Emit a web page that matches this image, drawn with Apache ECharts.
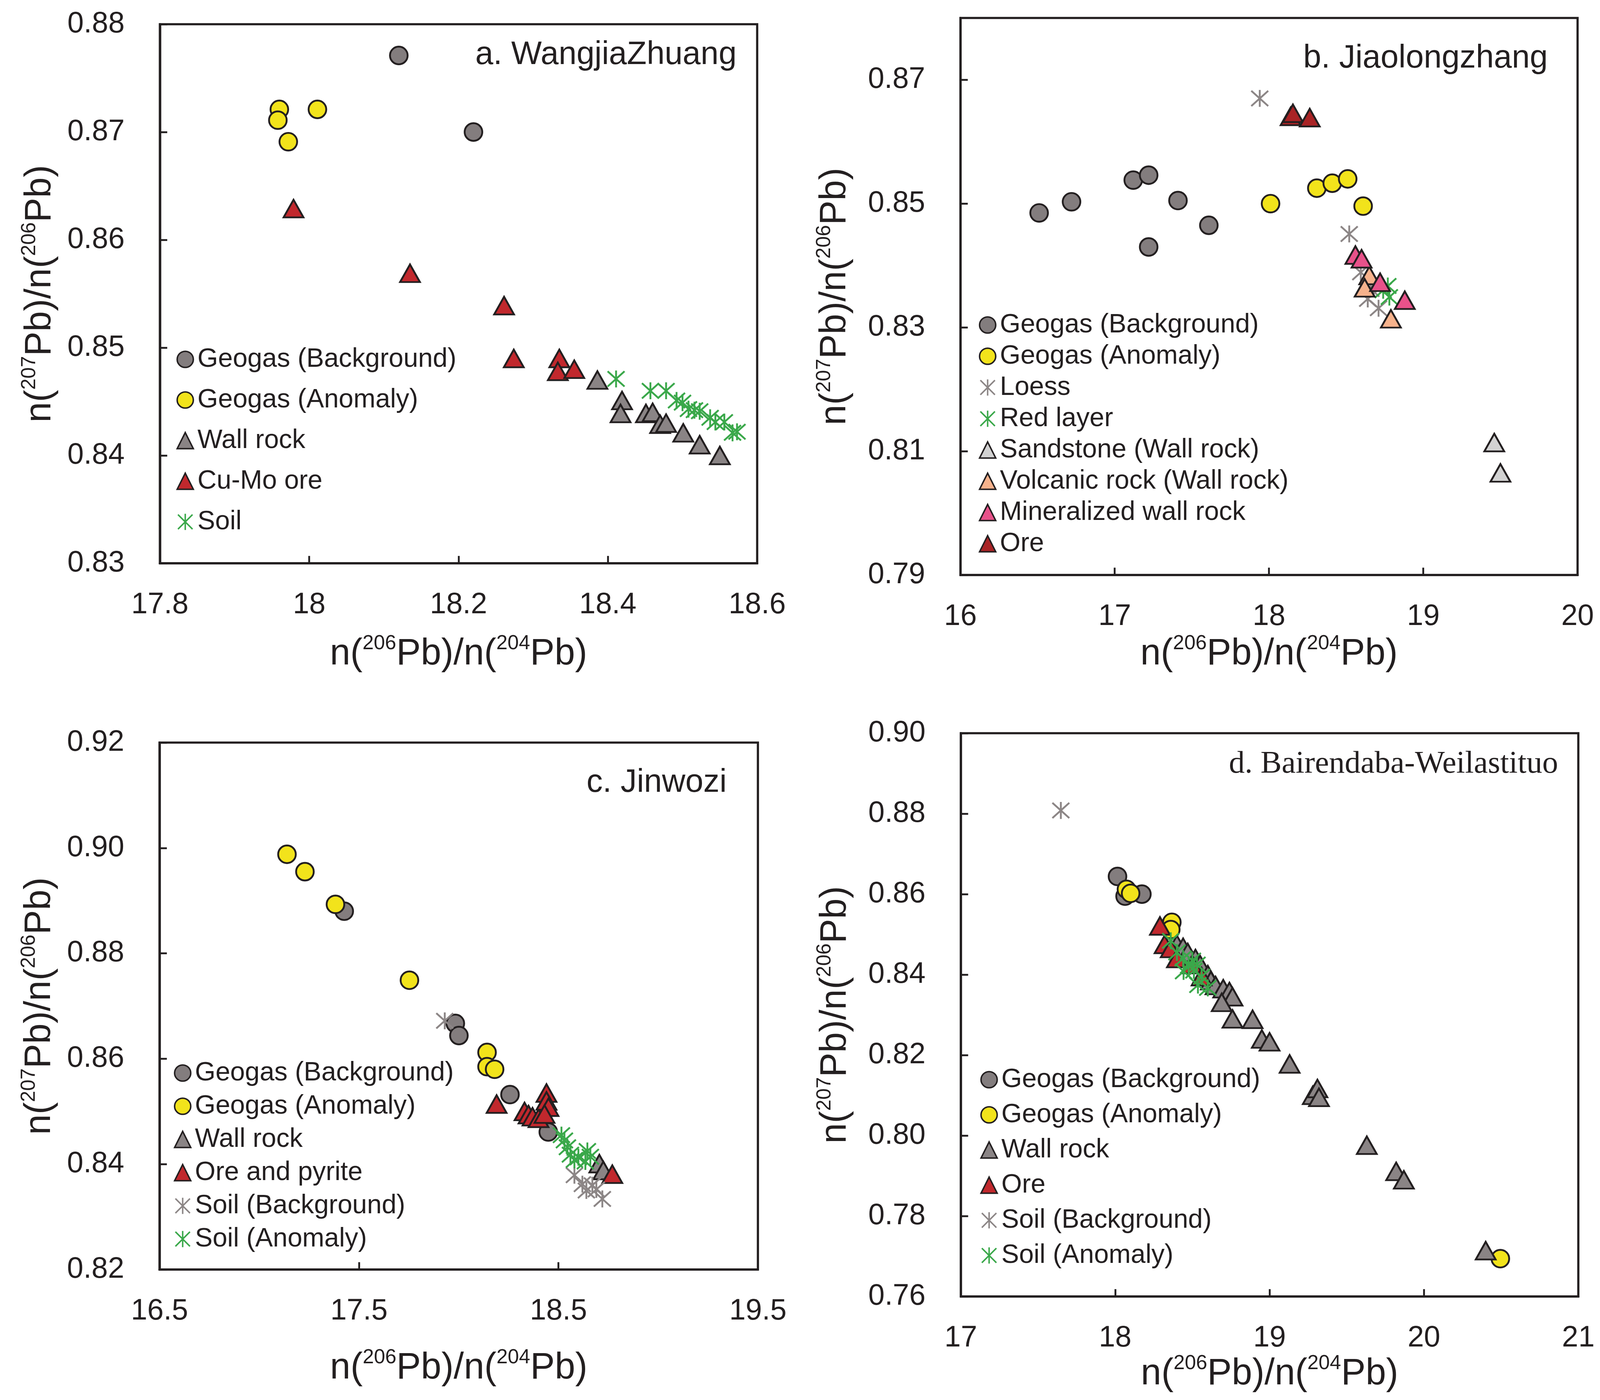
<!DOCTYPE html>
<html lang="en">
<head>
    <meta charset="utf-8"/>
    <title>n(207Pb)/n(206Pb) vs n(206Pb)/n(204Pb)</title>
    <script src="https://cdn.jsdelivr.net/npm/echarts@6/dist/echarts.min.js"></script>
    <style>
        html, body { margin: 0; padding: 0; background: #fff; overflow: hidden; }
        #main { width: 100vw; height: 100vh; }
    </style>
</head>
<body>
<div id="main"></div>
<script>
    // a. WangjiaZhuang
    var aGeoBg = [[18.12, 0.8771], [18.22, 0.8700]];
    var aGeoAn = [[17.96, 0.8721], [17.958, 0.8711], [17.972, 0.8691], [18.011, 0.8721]];
    var aWall = [[18.386, 0.8470], [18.419, 0.8451], [18.417, 0.8439], [18.451, 0.8439], [18.460, 0.8440],
        [18.470, 0.8429], [18.478, 0.8430], [18.501, 0.8421], [18.523, 0.8410], [18.550, 0.8400]];
    var aOre = [[17.979, 0.8629], [18.135, 0.8569], [18.261, 0.8539], [18.274, 0.8490], [18.335, 0.8490],
        [18.333, 0.8478], [18.355, 0.8480]];
    var aSoil = [[18.411, 0.8471], [18.457, 0.8460], [18.478, 0.8460], [18.492, 0.8451], [18.500, 0.8449],
        [18.508, 0.8443], [18.516, 0.8442], [18.523, 0.8441], [18.537, 0.8435], [18.544, 0.8431],
        [18.556, 0.8431], [18.567, 0.8421], [18.573, 0.8422]];

    // b. Jiaolongzhang
    var bGeoBg = [[16.51, 0.8485], [16.72, 0.8503], [17.12, 0.8538], [17.22, 0.8546], [17.41, 0.8505],
        [17.61, 0.8465], [17.22, 0.8430]];
    var bGeoAn = [[18.01, 0.8500], [18.31, 0.8525], [18.41, 0.8533], [18.51, 0.8540], [18.61, 0.8496]];
    var bLoess = [[17.94, 0.8670], [18.52, 0.8451], [18.595, 0.8389], [18.64, 0.8346], [18.71, 0.8331], [18.66, 0.8362]];
    var bRedLayer = [[18.74, 0.8360], [18.77, 0.8367], [18.78, 0.8349]];
    var bSand = [[19.46, 0.8114], [19.50, 0.8065]];
    var bVolc = [[18.65, 0.8384], [18.62, 0.8364], [18.79, 0.8314]];
    var bMin = [[18.56, 0.8417], [18.60, 0.8411], [18.72, 0.8373], [18.88, 0.8344]];
    var bOre = [[18.14, 0.8641], [18.155, 0.8646], [18.264, 0.8639]];

    // c. Jinwozi
    var cGeoBg = [[17.426, 0.8880], [17.983, 0.8667], [18.001, 0.8644], [18.257, 0.8532], [18.449, 0.8461]];
    var cGeoAn = [[17.139, 0.8988], [17.229, 0.8955], [17.382, 0.8893], [17.753, 0.8749], [18.142, 0.8612],
        [18.142, 0.8585], [18.18, 0.8580]];
    var cWall = [[18.705, 0.8401], [18.725, 0.8388]];
    var cOre = [[18.19, 0.8514], [18.33, 0.8500], [18.35, 0.8494], [18.37, 0.8490], [18.40, 0.8487],
        [18.44, 0.8535], [18.44, 0.8520], [18.45, 0.8508], [18.43, 0.8495], [18.77, 0.8381]];
    var cSoilBg = [[17.93, 0.8672], [18.58, 0.8379], [18.62, 0.8362], [18.64, 0.8350], [18.67, 0.8360],
        [18.69, 0.8352], [18.72, 0.8334]];
    var cSoilAn = [[18.515, 0.8455], [18.53, 0.8445], [18.545, 0.8432], [18.56, 0.8418], [18.58, 0.8408],
        [18.60, 0.8413], [18.635, 0.8405], [18.645, 0.8425], [18.66, 0.8414]];

    // d. Bairendaba-Weilastituo
    var dGeoBg = [[18.015, 0.8644], [18.064, 0.8595], [18.173, 0.8600]];
    var dGeoAn = [[18.073, 0.8612], [18.10, 0.8602], [18.367, 0.8530], [18.36, 0.8512], [20.495, 0.7694]];
    var dWall = [[18.40, 0.8475], [18.44, 0.8468], [18.47, 0.8455], [18.52, 0.8440], [18.55, 0.8425],
        [18.60, 0.8400], [18.62, 0.8385], [18.65, 0.8373], [18.70, 0.8365], [18.74, 0.8358], [18.76, 0.8345],
        [18.69, 0.8331], [18.76, 0.8290], [18.89, 0.8289], [18.95, 0.8240], [19.00, 0.8233], [19.13, 0.8178],
        [19.28, 0.8100], [19.31, 0.8117], [19.32, 0.8095], [19.63, 0.7976], [19.82, 0.7911], [19.87, 0.7890],
        [20.40, 0.7714]];
    var dOre = [[18.29, 0.8521], [18.32, 0.8475], [18.36, 0.8465], [18.40, 0.8440], [18.50, 0.8425], [18.56, 0.8395]];
    var dSoilBg = [[17.648, 0.8808]];
    var dSoilAn = [[18.36, 0.8484], [18.40, 0.8455], [18.44, 0.8440], [18.443, 0.8408], [18.476, 0.8422],
        [18.50, 0.8435], [18.51, 0.8410], [18.53, 0.8425], [18.536, 0.8374], [18.56, 0.8395], [18.60, 0.8367]];

    var FONT = '"Liberation Sans", Arial, sans-serif';
    var INK = '#231f20';
    var STAR = 'path://M10,0L10,20M1,1L19,19M1,19L19,1';

    // marker colours
    var GRAY = '#837d7e', YELLOW = '#f2e31b', TRI_GRAY = '#8a8485', RED = '#c1282d', DARK_RED = '#a92325',
        GREEN = '#3aa84a', STAR_GRAY = '#8c8686', LIGHT = '#d2d2d2', SALMON = '#f6b28c', PINK = '#e8528a';

    var dom = document.getElementById('main');
    var chart = echarts.init(dom);
    // layout was measured on a 4353x3584 picture; scale to the real canvas
    var kx = chart.getWidth() / 4353;
    var ky = chart.getHeight() / 3584;
    function s(v) { return v * kx; }
    function sy(v) { return v * ky; }

    function pts(panel, name, data, kind, fill) {
        var o = {
            name: panel + '|' + name,
            type: 'scatter',
            xAxisIndex: 'abcd'.indexOf(panel),
            yAxisIndex: 'abcd'.indexOf(panel),
            data: data,
            itemStyle: {color: fill, borderColor: INK, borderWidth: s(5), opacity: 1}
        };
        if (kind === 'circle') {
            o.symbol = 'circle';
            o.symbolSize = s(48);
        } else if (kind === 'tri') {
            o.symbol = 'triangle';
            o.symbolSize = [s(54), s(48)];
        } else {
            o.symbol = STAR;
            o.symbolSize = s(46);
            o.itemStyle = {color: 'rgba(0,0,0,0)', borderColor: fill, borderWidth: s(5), opacity: 1};
        }
        return o;
    }

    var series = [
        pts('a', 'Geogas (Background)', aGeoBg, 'circle', GRAY),
        pts('a', 'Geogas (Anomaly)', aGeoAn, 'circle', YELLOW),
        pts('a', 'Wall rock', aWall, 'tri', TRI_GRAY),
        pts('a', 'Cu-Mo ore', aOre, 'tri', RED),
        pts('a', 'Soil', aSoil, 'star', GREEN),

        pts('b', 'Geogas (Background)', bGeoBg, 'circle', GRAY),
        pts('b', 'Geogas (Anomaly)', bGeoAn, 'circle', YELLOW),
        pts('b', 'Loess', bLoess, 'star', STAR_GRAY),
        pts('b', 'Red layer', bRedLayer, 'star', GREEN),
        pts('b', 'Sandstone (Wall rock)', bSand, 'tri', LIGHT),
        pts('b', 'Volcanic rock (Wall rock)', bVolc, 'tri', SALMON),
        pts('b', 'Mineralized wall rock', bMin, 'tri', PINK),
        pts('b', 'Ore', bOre, 'tri', DARK_RED),

        pts('c', 'Geogas (Background)', cGeoBg, 'circle', GRAY),
        pts('c', 'Geogas (Anomaly)', cGeoAn, 'circle', YELLOW),
        pts('c', 'Wall rock', cWall, 'tri', TRI_GRAY),
        pts('c', 'Ore and pyrite', cOre, 'tri', RED),
        pts('c', 'Soil (Background)', cSoilBg, 'star', STAR_GRAY),
        pts('c', 'Soil (Anomaly)', cSoilAn, 'star', GREEN),

        pts('d', 'Geogas (Background)', dGeoBg, 'circle', GRAY),
        pts('d', 'Geogas (Anomaly)', dGeoAn, 'circle', YELLOW),
        pts('d', 'Wall rock', dWall, 'tri', TRI_GRAY),
        pts('d', 'Ore', dOre, 'tri', RED),
        pts('d', 'Soil (Background)', dSoilBg, 'star', STAR_GRAY),
        pts('d', 'Soil (Anomaly)', dSoilAn, 'star', GREEN)
    ];

    function legendFor(panel, left, top, gap) {
        var names = [];
        series.forEach(function (o) {
            if (o.name.indexOf(panel + '|') === 0) names.push(o.name);
        });
        return {
            data: names,
            orient: 'vertical',
            left: s(left),
            top: sy(top),
            itemGap: sy(gap),
            itemWidth: s(44),
            itemHeight: s(44),
            padding: 0,
            selectedMode: false,
            formatter: function (n) { return n.split('|')[1]; },
            itemStyle: {borderWidth: s(4)},
            textStyle: {fontSize: s(72), lineHeight: s(72), fontFamily: FONT, color: INK, padding: [0, 0, 0, s(6)]}
        };
    }

    var rich = {
        t: {fontSize: s(100), lineHeight: s(112), fontFamily: FONT, color: INK},
        sup: {fontSize: s(55), lineHeight: s(55), fontFamily: FONT, color: INK, verticalAlign: 'top'}
    };
    var axisLine = {show: true, onZero: false, lineStyle: {color: INK, width: s(6)}};
    var axisTick = {show: true, inside: true, length: s(20), lineStyle: {color: INK, width: s(5)}};

    function xAx(i, min, max, step, gap) {
        return {
            type: 'value', gridIndex: i, min: min, max: max, interval: step,
            name: '{t|n(}{sup|206}{t|Pb)/n(}{sup|204}{t|Pb)}',
            nameLocation: 'middle', nameGap: sy(gap),
            nameTextStyle: {rich: rich},
            axisLine: axisLine,
            axisTick: axisTick,
            axisLabel: {fontSize: s(80), fontFamily: FONT, color: INK, margin: sy(70)},
            splitLine: {show: false}
        };
    }

    function yAx(i, min, max, step, gap, hideMax) {
        return {
            type: 'value', gridIndex: i, min: min, max: max, interval: step,
            name: '{t|n(}{sup|207}{t|Pb)/n(}{sup|206}{t|Pb)}',
            nameLocation: 'middle', nameGap: s(gap),
            nameTextStyle: {rich: rich},
            axisLine: axisLine,
            axisTick: axisTick,
            axisLabel: {
                fontSize: s(80), fontFamily: FONT, color: INK, margin: s(96),
                showMaxLabel: !hideMax,
                formatter: function (v) { return v.toFixed(2); }
            },
            splitLine: {show: false}
        };
    }

    function box(left, top, width, height) {
        return {
            left: s(left), top: sy(top), width: s(width), height: sy(height),
            show: true, borderColor: INK, borderWidth: s(6), backgroundColor: 'transparent'
        };
    }

    // panel titles, right-aligned inside each box
    function titleText(text, rightEdge, top, serif) {
        return {
            text: text, right: s(4353 - rightEdge), top: sy(top), padding: 0,
            textStyle: {
                fontSize: s(serif ? 86 : 88), fontWeight: 'normal', color: INK,
                fontFamily: serif ? '"Liberation Serif", "Times New Roman", serif' : FONT
            }
        };
    }

    var option = {
        backgroundColor: '#ffffff',
        animation: false,
        title: [
            titleText('a. WangjiaZhuang', 2004, 100),
            titleText('b. Jiaolongzhang', 4211, 109),
            titleText('c. Jinwozi', 1977, 1963),
            titleText('d. Bairendaba-Weilastituo', 4239, 1916, true)
        ],
        grid: [
            box(435, 62, 1625, 1380),
            box(2613, 46, 1679, 1426),
            box(434, 1901, 1628, 1349),
            box(2614, 1877, 1680, 1442)
        ],
        xAxis: [
            xAx(0, 17.8, 18.6, 0.2, 180),
            xAx(1, 16, 20, 1, 150),
            xAx(2, 16.5, 19.5, 1, 200),
            xAx(3, 17, 21, 1, 132)
        ],
        yAxis: [
            yAx(0, 0.83, 0.88, 0.01, 270, false),
            yAx(1, 0.79, 0.88, 0.02, 285, true),
            yAx(2, 0.82, 0.92, 0.02, 270, false),
            yAx(3, 0.76, 0.90, 0.02, 285, false)
        ],
        legend: [
            legendFor('a', 480, 886, 36),
            legendFor('b', 2663, 798, 12),
            legendFor('c', 473, 2713, 17),
            legendFor('d', 2667, 2730, 22)
        ],
        series: series
    };
    chart.setOption(option);
</script>
</body>
</html>
